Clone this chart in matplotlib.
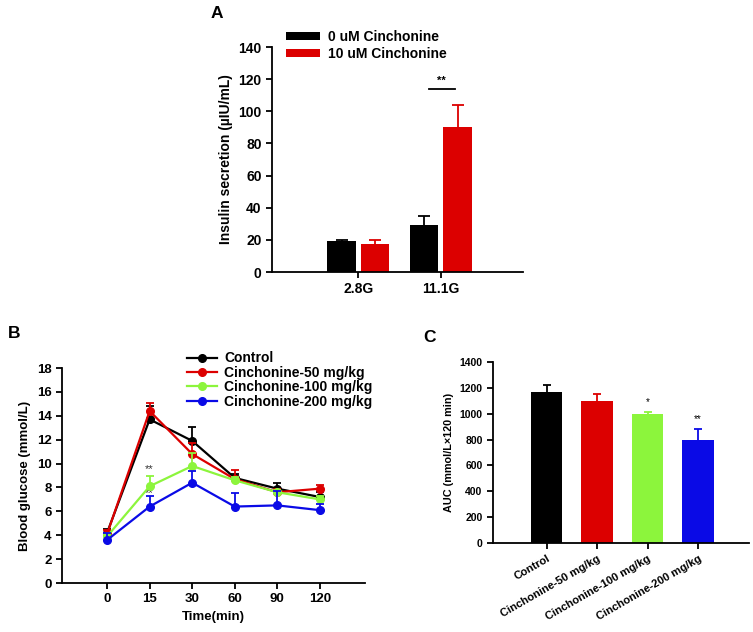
import numpy as np
import matplotlib
matplotlib.use('Agg')
import matplotlib.pyplot as plt
from matplotlib.lines import Line2D

plt.rcParams['font.family'] = ['Liberation Sans', 'DejaVu Sans']
plt.rcParams['font.weight'] = 'bold'

# ------------------------------------------------------- Data
# Panel A
groups_a = ['2.8G', '11.1G']
insulin_0uM = [19, 29]
insulin_0uM_err = [1, 6]
insulin_10uM = [17.5, 90]
insulin_10uM_err = [2.5, 14]

# Panel B
times = ['0', '15', '30', '60', '90', '120']
control = [4.2, 13.7, 11.9, 8.8, 7.9, 7.2]
control_err = [0.3, 1.1, 1.2, 0.3, 0.5, 0.4]
cinch50 = [4.1, 14.4, 10.8, 8.7, 7.6, 7.9]
cinch50_err = [0.3, 0.7, 0.9, 0.8, 0.3, 0.3]
cinch100 = [3.9, 8.1, 9.8, 8.6, 7.6, 7.0]
cinch100_err = [0.2, 0.9, 1.1, 0.3, 0.2, 0.3]
cinch200 = [3.6, 6.4, 8.4, 6.4, 6.5, 6.1]
cinch200_err = [0.6, 0.9, 1.0, 1.1, 1.2, 0.5]

# Panel C
groups_c = ['Control', 'Cinchonine-50 mg/kg', 'Cinchonine-100 mg/kg', 'Cinchonine-200 mg/kg']
auc = [1165, 1100, 1000, 793]
auc_err = [55, 50, 15, 90]
auc_sig = ['', '', '*', '**']

# Colors
BLACK = '#000000'
RED = '#dc0000'
GREEN = '#8cf53c'
BLUE = '#0a0ae6'


def style_axes(ax):
    for s in ['top', 'right']:
        ax.spines[s].set_visible(False)
    for s in ['left', 'bottom']:
        ax.spines[s].set_linewidth(1.3)
    ax.tick_params(width=1.3, length=4)


def up_err(ax, x, y, e, color, capsize=4, zorder=2):
    # upper-only error bars (hide lower caps)
    _, caps, _ = ax.errorbar(x, y, yerr=[np.zeros(len(e)), e], fmt='none', ecolor=color,
                             capsize=capsize, elinewidth=1.3, capthick=1.3, zorder=zorder)
    for c in caps:
        if np.allclose(c.get_ydata(), y):
            c.set_visible(False)


fig = plt.figure(figsize=(7.53, 6.32), dpi=100)

# ------------------------------------------------------- Panel A
axA = fig.add_axes([0.3612, 0.5696, 0.3333, 0.356])
xa = np.arange(len(groups_a))
w = 0.34
axA.bar(xa - 0.2, insulin_0uM, w, color=BLACK, label='0 uM Cinchonine')
axA.bar(xa + 0.2, insulin_10uM, w, color=RED, label='10 uM Cinchonine')
up_err(axA, xa - 0.2, insulin_0uM, insulin_0uM_err, BLACK)
up_err(axA, xa + 0.2, insulin_10uM, insulin_10uM_err, RED)
axA.set_xlim(-1.04, 1.99)
axA.set_ylim(0, 140)
axA.set_yticks(range(0, 141, 20))
axA.set_xticks(xa)
axA.set_xticklabels(groups_a)
axA.tick_params(axis='both', labelsize=10)
axA.set_ylabel('Insulin secretion (µIU/mL)', fontsize=10, fontweight='bold')
style_axes(axA)
# significance
axA.plot([0.855, 1.17], [114, 114], color=BLACK, lw=1.3, clip_on=False)
axA.text(1.01, 116, '**', ha='center', va='bottom', fontsize=8)
axA.legend(loc='upper left', bbox_to_anchor=(0.371, 0.963), bbox_transform=fig.transFigure,
           frameon=False, fontsize=10, handlelength=2.4, handleheight=0.5,
           labelspacing=0.2, handletextpad=0.6, borderpad=0)
fig.text(0.279, 0.979, 'A', fontsize=12.5, fontweight='bold', ha='left', va='center')

# ------------------------------------------------------- Panel B
axB = fig.add_axes([0.0823, 0.0775, 0.4024, 0.3402])
xb = np.arange(len(times))
series = [(control, control_err, BLACK, 'Control'),
          (cinch50, cinch50_err, RED, 'Cinchonine-50 mg/kg'),
          (cinch100, cinch100_err, GREEN, 'Cinchonine-100 mg/kg'),
          (cinch200, cinch200_err, BLUE, 'Cinchonine-200 mg/kg')]
handles = []
for i, (vals, err, col, lab) in enumerate(series):
    up_err(axB, xb, vals, err, col, capsize=3, zorder=2 + i)
    axB.plot(xb, vals, color=col, lw=1.6, marker='o', markersize=5.5, zorder=2 + i)
    handles.append(Line2D([], [], color=col, lw=1.6, marker='o', markersize=5.5, label=lab))
axB.text(1, 9.55, '**', ha='center', va='center', fontsize=8, fontweight='normal', color='#333333')
axB.text(1, 7.55, '**', ha='center', va='center', fontsize=8, fontweight='normal', color='#333333')
axB.set_xlim(-1.06, 6.06)
axB.set_ylim(0, 18)
axB.set_yticks(range(0, 19, 2))
axB.set_xticks(xb)
axB.set_xticklabels(times)
axB.tick_params(axis='both', labelsize=9.5)
axB.set_ylabel('Blood glucose (mmol/L)', fontsize=9.5, fontweight='bold')
axB.set_xlabel('Time(min)', fontsize=9.5, fontweight='bold')
style_axes(axB)
axB.legend(handles=handles, loc='upper left', bbox_to_anchor=(0.239, 0.455),
           bbox_transform=fig.transFigure, frameon=False, fontsize=10,
           handlelength=2.2, numpoints=1, labelspacing=0.03, handletextpad=0.5, borderpad=0)
fig.text(0.01, 0.472, 'B', fontsize=12.5, fontweight='bold', ha='left', va='center')

# ------------------------------------------------------- Panel C
axC = fig.add_axes([0.6547, 0.1408, 0.34, 0.2864])
xc = np.arange(len(groups_c))
colors_c = [BLACK, RED, GREEN, BLUE]
axC.bar(xc, auc, 0.63, color=colors_c)
for i in range(len(auc)):
    up_err(axC, [xc[i]], [auc[i]], [auc_err[i]], colors_c[i], capsize=3)
for i, s in enumerate(auc_sig):
    if s:
        axC.text(xc[i], auc[i] + auc_err[i] + 40, s, ha='center', va='bottom', fontsize=7, fontweight='normal')
axC.set_xlim(-1.06, 4.01)
axC.set_ylim(0, 1400)
axC.set_yticks(range(0, 1401, 200))
axC.set_xticks(xc)
axC.set_xticklabels(groups_c, rotation=30, ha='right', rotation_mode='anchor')
axC.tick_params(axis='y', labelsize=7.5)
axC.tick_params(axis='x', labelsize=8)
axC.set_ylabel('AUC (mmol/L×120 min)', fontsize=7.8, fontweight='bold')
style_axes(axC)
fig.text(0.562, 0.466, 'C', fontsize=12.5, fontweight='bold', ha='left', va='center')

fig.savefig('out.png', dpi=100)
